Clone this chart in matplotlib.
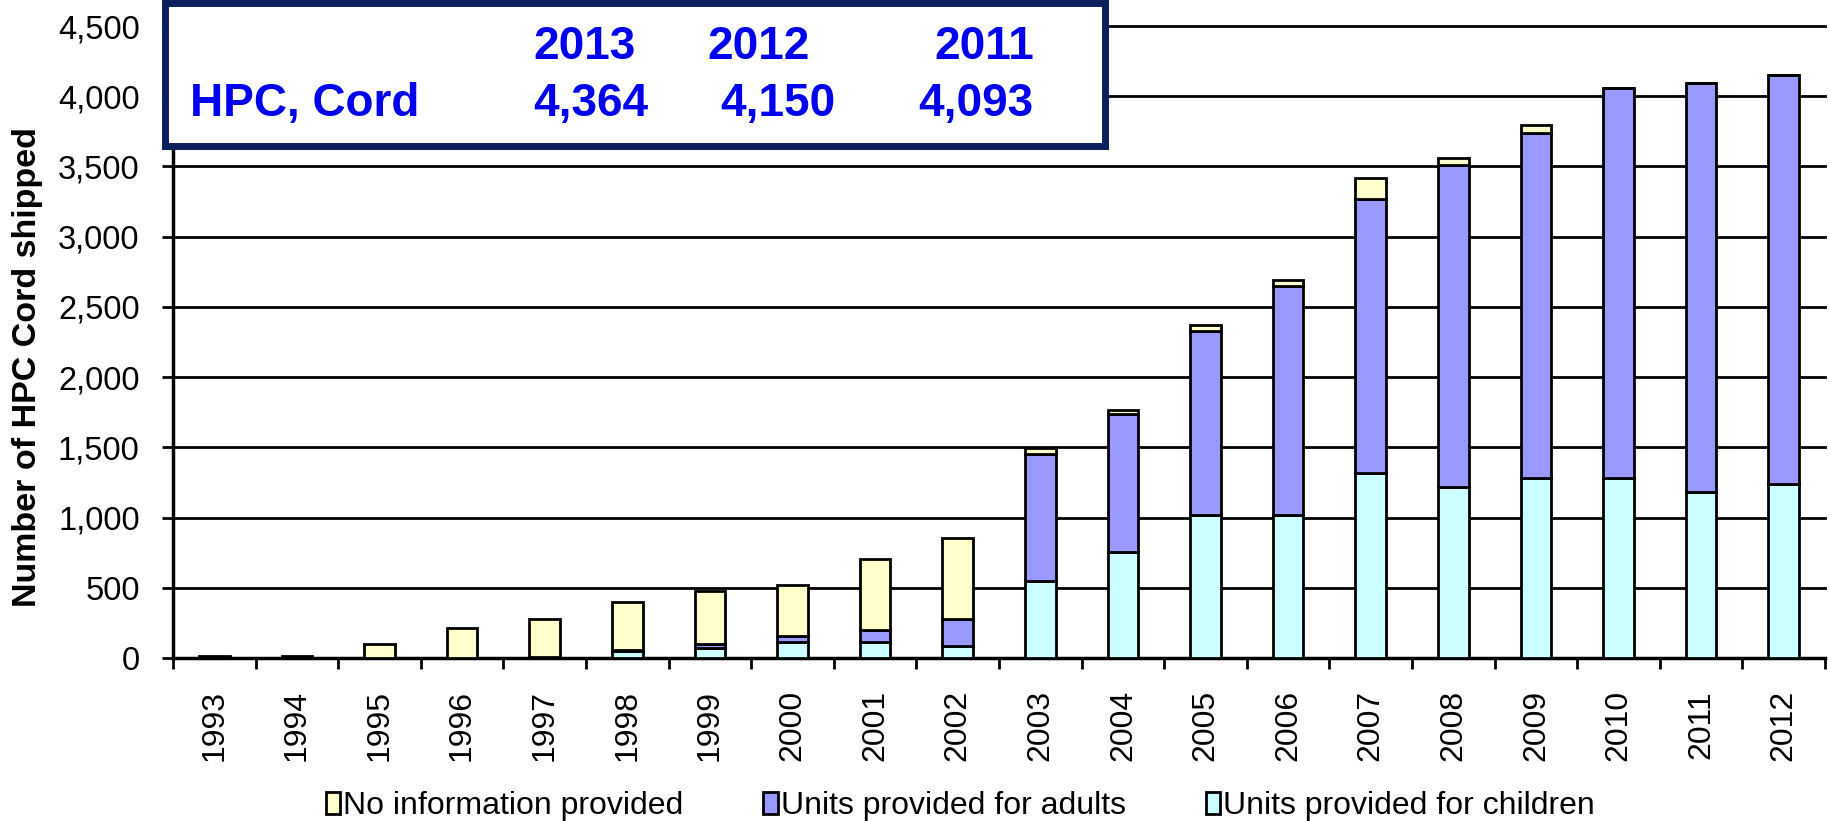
import numpy as np
import matplotlib
matplotlib.use("Agg")
from matplotlib import pyplot as plt
from matplotlib.patches import Rectangle
from matplotlib.ticker import FuncFormatter, MultipleLocator

plt.rcParams["font.family"] = ["Liberation Sans", "DejaVu Sans"]

years = [str(y) for y in range(1993, 2013)]
children = [0, 0, 0, 0, 5, 50, 70, 115, 116, 87,
            548, 752, 1018, 1018, 1319, 1219, 1279, 1279, 1179, 1238]
adults = [0, 0, 0, 0, 5, 5, 28, 43, 82, 194,
          908, 986, 1308, 1630, 1949, 2293, 2456, 2778, 2914, 2912]
no_info = [12, 12, 99, 216, 266, 342, 382, 362, 506, 576,
           41, 28, 42, 45, 150, 45, 62, 0, 0, 0]

summary_years = ["2013", "2012", "2011"]
summary_values = ["4,364", "4,150", "4,093"]

c_children = "#ccffff"
c_adults = "#9999ff"
c_noinfo = "#ffffcc"

fig = plt.figure(figsize=(18.29, 8.21), dpi=100)
ax = fig.add_axes([0.0946, 0.1985, 0.9032, 0.7698])

x = np.arange(len(years))
children = np.array(children)
adults = np.array(adults)
no_info = np.array(no_info)
width = 0.37
bar_kw = dict(width=width, edgecolor="black", linewidth=2, zorder=3)

b1 = ax.bar(x, children, color=c_children, **bar_kw)
b2 = ax.bar(x, adults, bottom=children, color=c_adults, **bar_kw)
b3 = ax.bar(x, no_info, bottom=children + adults, color=c_noinfo, **bar_kw)

ax.set_xlim(-0.5, len(years) - 0.5)
ax.set_ylim(0, 4500)
ax.yaxis.set_major_locator(MultipleLocator(500))
ax.yaxis.set_major_formatter(FuncFormatter(lambda v, p: f"{int(v):,}"))
ax.grid(axis="y", color="black", linewidth=2, zorder=0)
ax.set_axisbelow(True)
for gl in ax.get_ygridlines():
    gl.set_clip_on(False)

ax.set_xticks(x)
ax.set_xticklabels(years, rotation=90, fontsize=23)
ax.set_xticks(np.arange(len(years) + 1) - 0.5, minor=True)
ax.tick_params(axis="x", which="major", length=0, pad=23)
ax.tick_params(axis="x", which="minor", length=8, width=2, direction="out")
ax.tick_params(axis="y", length=8, width=2, pad=16, labelsize=23.5)

for side in ["top", "right"]:
    ax.spines[side].set_visible(False)
ax.spines["left"].set_linewidth(2.5)
ax.spines["bottom"].set_linewidth(2.5)

ax.set_ylabel("Number of HPC Cord shipped", fontsize=24.5, fontweight="bold")
ax.yaxis.set_label_coords(-0.079, 0.46)

fig.legend([b3, b2, b1],
           ["No information provided", "Units provided for adults",
            "Units provided for children"],
           loc="center", bbox_to_anchor=(0.525, 0.018), ncol=3, frameon=False,
           fontsize=23, handlelength=0.45, handleheight=0.7,
           handletextpad=0.1, columnspacing=2.5, borderaxespad=0)

# summary box over the top-left corner of the plot
W, H = 1829.0, 821.0
box = Rectangle((165 / W, 1 - 146 / H), 940 / W, 143 / H,
                transform=fig.transFigure, facecolor="white",
                edgecolor="#0b1f5c", linewidth=5, zorder=10)
fig.patches.append(box)

txt_kw = dict(color="#0000ee", fontsize=33, fontweight="bold",
              va="center", ha="left", zorder=11)
fig.text(190 / W, 1 - 104 / H, "HPC, Cord", **txt_kw)
for xl, yr in zip([533, 707, 934], summary_years):
    fig.text(xl / W, 1 - 47 / H, yr, **txt_kw)
for xl, val in zip([533, 720, 918], summary_values):
    fig.text(xl / W, 1 - 104 / H, val, **txt_kw)

fig.savefig("out.png", dpi=100)
